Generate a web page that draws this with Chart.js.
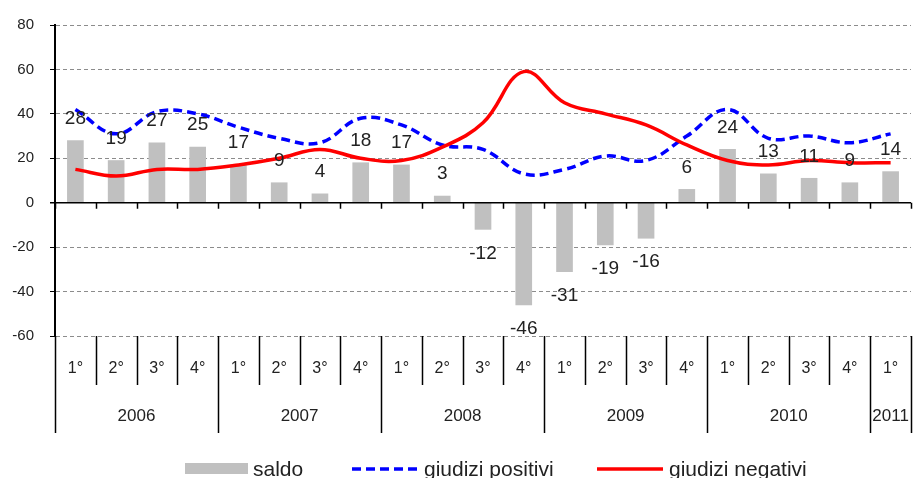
<!DOCTYPE html>
<html>
<head>
<meta charset="utf-8">
<script src="https://cdn.jsdelivr.net/npm/chart.js@4/dist/chart.umd.min.js"></script>
<style>
  html, body { margin: 0; padding: 0; background: #fff; }
  #wrap { width: 913px; height: 478px; }
</style>
</head>
<body>
<div id="wrap"><canvas id="chart" width="913" height="478"></canvas></div>
<script>
// dati (trimestri 2006 - 2011)
const quarters = ['1°','2°','3°','4°','1°','2°','3°','4°','1°','2°','3°','4°','1°','2°','3°','4°','1°','2°','3°','4°','1°'];
const years = ['2006','2006','2006','2006','2007','2007','2007','2007','2008','2008','2008','2008',
               '2009','2009','2009','2009','2010','2010','2010','2010','2011'];
const saldo = [28, 19, 27, 25, 17, 9, 4, 18, 17, 3, -12, -46, -31, -19, -16, 6, 24, 13, 11, 9, 14];
const giudiziPositivi = [42, 31, 41, 40, 34, 29, 27, 38, 35, 26, 24, 13, 15, 21, 19, 30, 42, 29, 30, 27, 31];
const giudiziNegativi = [15, 12, 15, 15, 17, 20, 24, 20, 19, 25, 36, 59, 45, 40, 35, 26, 19, 17, 19, 18, 18];
const yTicks = [80, 60, 40, 20, 0, -20, -40, -60];

const FONT = "'Liberation Sans', Arial, sans-serif";
const TEXT = '#222';

// posizione orizzontale delle voci di legenda
const legendX = [185, 352, 597];

// asse categorie a due livelli + linea dello zero + etichette dati + legenda
const extrasPlugin = {
    id: 'extras',
    afterDatasetsDraw(chart) {
        const ctx = chart.ctx;
        const x = chart.scales.x;
        const y = chart.scales.y;
        const area = chart.chartArea;
        const half = (x.getPixelForValue(1) - x.getPixelForValue(0)) / 2;
        const y0 = y.getPixelForValue(0);

        ctx.save();
        // linea dello zero con tacche
        ctx.strokeStyle = '#000';
        ctx.lineWidth = 1.5;
        ctx.beginPath();
        ctx.moveTo(area.left - 5, y0);
        ctx.lineTo(area.right, y0);
        for (let i = 0; i <= quarters.length; i++) {
            const bx = Math.round(x.getPixelForValue(i) - half) + 0.5;
            ctx.moveTo(bx, y0);
            ctx.lineTo(bx, y0 + 6);
        }
        ctx.stroke();

        // etichette saldo
        const meta = chart.getDatasetMeta(0);
        ctx.font = '19px ' + FONT;
        ctx.fillStyle = TEXT;
        ctx.textAlign = 'center';
        ctx.textBaseline = 'middle';
        meta.data.forEach((bar, i) => {
            const v = saldo[i];
            const ly = v >= 0 ? bar.y - 22 : bar.y + 24;
            ctx.fillText(String(v), bar.x, ly);
        });
        ctx.restore();
    },
    afterDraw(chart) {
        const ctx = chart.ctx;
        const x = chart.scales.x;
        const area = chart.chartArea;
        const half = (x.getPixelForValue(1) - x.getPixelForValue(0)) / 2;
        const qBottom = area.bottom + 49;
        const yBottom = area.bottom + 97;

        ctx.save();
        ctx.strokeStyle = '#000';
        ctx.lineWidth = 1.5;
        ctx.beginPath();
        for (let i = 0; i <= quarters.length; i++) {
            const bx = Math.round(x.getPixelForValue(i) - half) + 0.5;
            const newYear = i === 0 || i === quarters.length || years[i] !== years[i - 1];
            ctx.moveTo(bx, area.bottom);
            ctx.lineTo(bx, newYear ? yBottom : qBottom);
        }
        ctx.stroke();

        ctx.fillStyle = TEXT;
        ctx.textAlign = 'center';
        ctx.textBaseline = 'middle';
        ctx.font = '16px ' + FONT;
        quarters.forEach((q, i) => {
            ctx.fillText(q, x.getPixelForValue(i), area.bottom + 33);
        });

        // anni, centrati sul proprio gruppo di trimestri
        ctx.font = '17px ' + FONT;
        let start = 0;
        for (let i = 1; i <= years.length; i++) {
            if (i === years.length || years[i] !== years[start]) {
                const cx = (x.getPixelForValue(start) + x.getPixelForValue(i - 1)) / 2;
                ctx.fillText(years[start], cx, area.bottom + 80);
                start = i;
            }
        }

        // legenda
        const ly = 469;
        ctx.font = '21px ' + FONT;
        ctx.textAlign = 'left';
        ctx.textBaseline = 'alphabetic';
        chart.data.datasets.forEach((ds, i) => {
            const lx = legendX[i];
            if (i === 0) {
                ctx.fillStyle = ds.backgroundColor;
                ctx.fillRect(lx, ly - 6, 63, 11);
            } else {
                ctx.strokeStyle = ds.borderColor;
                ctx.lineWidth = 3.5;
                ctx.setLineDash(ds.borderDash || []);
                ctx.beginPath();
                ctx.moveTo(lx, ly);
                ctx.lineTo(lx + 66, ly);
                ctx.stroke();
                ctx.setLineDash([]);
            }
            ctx.fillStyle = TEXT;
            ctx.fillText(ds.label, lx + (i === 0 ? 68 : 72), 476);
        });
        ctx.restore();
    }
};

const data = {
    labels: quarters,
    datasets: [
        {
            type: 'bar',
            label: 'saldo',
            data: saldo,
            backgroundColor: '#c0c0c0',
            barThickness: 16,
            order: 3
        },
        {
            type: 'line',
            label: 'giudizi positivi',
            data: giudiziPositivi,
            borderColor: '#0000ff',
            borderWidth: 3.5,
            borderDash: [9, 5],
            pointRadius: 0,
            tension: 0.4,
            fill: false,
            order: 2
        },
        {
            type: 'line',
            label: 'giudizi negativi',
            data: giudiziNegativi,
            borderColor: '#ff0000',
            borderWidth: 3.5,
            pointRadius: 0,
            tension: 0.4,
            fill: false,
            order: 1
        }
    ]
};

const config = {
    type: 'bar',
    data: data,
    options: {
        responsive: false,
        animation: false,
        layout: { padding: { top: 18, right: 2, bottom: 142, left: 0 } },
        plugins: {
            legend: { display: false },
            tooltip: { enabled: false }
        },
        scales: {
            x: {
                display: false,
                offset: true
            },
            y: {
                min: -60,
                max: 80,
                afterFit(scale) { scale.width = 55; },
                afterBuildTicks(scale) { scale.ticks = yTicks.map(v => ({ value: v })); },
                ticks: {
                    font: { family: FONT, size: 15 },
                    color: TEXT,
                    padding: 16
                },
                grid: {
                    color: ctx => ctx.tick && ctx.tick.value === 0 ? 'rgba(0,0,0,0)' : '#8c8c8c',
                    tickColor: '#000',
                    tickLength: 5,
                    lineWidth: 1
                },
                border: {
                    display: true,
                    color: '#000',
                    width: 2,
                    dash: [4, 3]
                }
            }
        }
    },
    plugins: [extrasPlugin]
};

new Chart(document.getElementById('chart'), config);
</script>
</body>
</html>
